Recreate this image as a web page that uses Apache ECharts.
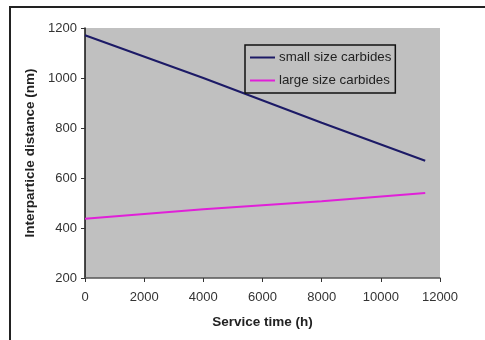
<!DOCTYPE html>
<html>
<head>
<meta charset="utf-8">
<script src="https://cdn.jsdelivr.net/npm/echarts@6/dist/echarts.min.js"></script>
<style>
  html, body { margin: 0; padding: 0; background: #fff; }
  #frame {
    position: absolute; left: 9px; top: 6px; width: 500px; height: 360px;
    border: 2px solid #222; box-sizing: border-box;
  }
  #chart { position: absolute; left: 0; top: 0; width: 485px; height: 340px; }
</style>
</head>
<body>
<div id="frame"></div>
<div id="chart"></div>
<script>
  // service time (h) and interparticle distance (nm)
  const hours = [0, 4000, 8000, 11500];
  const smallCarbides = [1171, 1000, 821, 669];
  const largeCarbides = [437, 475, 507, 540];
  const xTicks = [0, 12000, 2000];
  const yTicks = [200, 1200, 200];

  const myChart = echarts.init(document.getElementById('chart'), null, { renderer: 'canvas' });

  const font = 'Liberation Sans, Arial, sans-serif';

  myChart.setOption({
    animation: false,
    grid: {
      left: 85, top: 28, right: 45, bottom: 62,
      show: true, backgroundColor: '#c0c0c0', borderWidth: 0
    },
    legend: {
      orient: 'vertical',
      left: 245, top: 45,
      itemWidth: 25, itemHeight: 2, itemGap: 10,
      padding: [6, 4, 6, 5],
      backgroundColor: '#c0c0c0',
      borderColor: '#111', borderWidth: 1.5, borderRadius: 0,
      textStyle: { fontFamily: font, fontSize: 13.3, color: '#222', padding: [0, 0, 0, -1] },
      icon: 'rect',
      data: ['small size carbides', 'large size carbides']
    },
    xAxis: {
      type: 'value',
      min: xTicks[0], max: xTicks[1], interval: xTicks[2],
      name: 'Service time (h)',
      nameLocation: 'middle', nameGap: 37,
      nameTextStyle: { fontFamily: font, fontSize: 13.5, fontWeight: 'bold', color: '#222' },
      axisLine: { show: true, lineStyle: { color: '#555', width: 1.5 } },
      axisTick: { show: true, length: 4, lineStyle: { color: '#333' } },
      axisLabel: { fontFamily: font, fontSize: 13, color: '#333', margin: 13, formatter: v => String(v) },
      splitLine: { show: false }
    },
    yAxis: {
      type: 'value',
      min: yTicks[0], max: yTicks[1], interval: yTicks[2],
      name: 'Interparticle distance (nm)',
      nameLocation: 'middle', nameGap: 42,
      nameTextStyle: { fontFamily: font, fontSize: 13.5, fontWeight: 'bold', color: '#222' },
      axisLine: { show: true, lineStyle: { color: '#111', width: 1.5 } },
      axisTick: { show: true, length: 4, lineStyle: { color: '#333' } },
      axisLabel: { fontFamily: font, fontSize: 13, color: '#333', margin: 8, formatter: v => String(v) },
      splitLine: { show: false }
    },
    series: [
      {
        name: 'small size carbides',
        type: 'line',
        data: hours.map((h, i) => [h, smallCarbides[i]]),
        showSymbol: false,
        lineStyle: { color: '#1c1a66', width: 2 },
        itemStyle: { color: '#1c1a66' }
      },
      {
        name: 'large size carbides',
        type: 'line',
        data: hours.map((h, i) => [h, largeCarbides[i]]),
        showSymbol: false,
        lineStyle: { color: '#e020d8', width: 2 },
        itemStyle: { color: '#e020d8' }
      }
    ]
  });
</script>
</body>
</html>
